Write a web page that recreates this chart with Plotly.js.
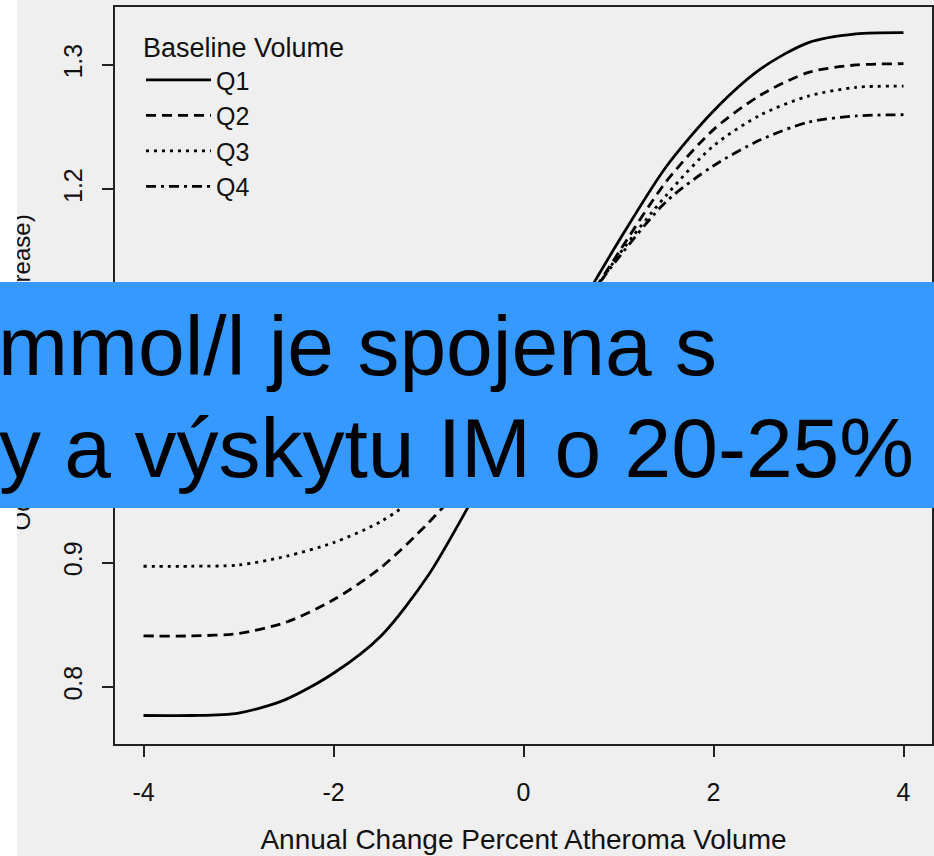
<!DOCTYPE html>
<html>
<head>
<meta charset="utf-8">
<script src="https://cdn.plot.ly/plotly-3.0.1.min.js"></script>
<style>
  html, body { margin: 0; padding: 0; background: #ffffff; }
  #chart { width: 934px; height: 856px; }
</style>
</head>
<body>
<div id="chart"></div>
<script>
// ---- data ----
const xVals = [-4, -3.5, -3, -2.5, -2, -1.5, -1, -0.5, 0, 0.5, 1, 1.5, 2, 2.5, 3, 3.5, 4];
const q1 = [0.777, 0.777, 0.779, 0.790, 0.811, 0.841, 0.890, 0.956, 1.025, 1.093, 1.158, 1.218, 1.263, 1.297, 1.318, 1.325, 1.326];
const q2 = [0.841, 0.841, 0.843, 0.852, 0.870, 0.896, 0.932, 0.975, 1.030, 1.090, 1.149, 1.206, 1.248, 1.276, 1.294, 1.300, 1.301];
const q3 = [0.897, 0.897, 0.898, 0.905, 0.916, 0.933, 0.960, 0.995, 1.040, 1.090, 1.147, 1.195, 1.235, 1.260, 1.275, 1.282, 1.283];
const q4 = [0.955, 0.955, 0.957, 0.962, 0.970, 0.982, 1.000, 1.025, 1.055, 1.095, 1.145, 1.190, 1.219, 1.240, 1.254, 1.259, 1.260];
const seriesNames = ["Q1", "Q2", "Q3", "Q4"];
const xTicks = [-4, -2, 0, 2, 4];
const yTicks = [0.8, 0.9, 1.0, 1.1, 1.2, 1.3];
const legendTitle = "Baseline Volume";
const xTitle = "Annual Change Percent Atheroma Volume";
const yTitle = "Odds Ratio (per SD Increase)";
const bannerLine1 = "mmol/l je spojena s";
const bannerLine2 = "y a výskytu IM o 20-25%";

// ---- layout helpers (pixel -> paper) ----
const W = 934, H = 856;
const M = {l: 115, r: 2, t: 7, b: 112};
const PW = W - M.l - M.r, PH = H - M.t - M.b;
const px = v => (v - M.l) / PW;
const py = v => (H - M.b - v) / PH;

const FONT = '"Liberation Sans", Arial, sans-serif';
const dashes = ["solid", "10px,6px", "3px,5px", "10px,5px,3px,5px"];
const series = [q1, q2, q3, q4];

const traces = series.map((ys, i) => ({
  type: 'scatter', mode: 'lines', x: xVals, y: ys, name: seriesNames[i],
  line: {color: '#000000', width: 2.8, dash: dashes[i], shape: 'spline', smoothing: 0.8}
}));

const layout = {
  width: W, height: H,
  margin: M,
  paper_bgcolor: '#efefef', plot_bgcolor: '#efefef',
  font: {family: FONT, color: '#111111'},
  showlegend: true,
  legend: {
    x: px(141), y: py(22), xanchor: 'left', yanchor: 'top',
    bgcolor: 'rgba(0,0,0,0)', borderwidth: 0,
    font: {family: FONT, size: 25, color: '#111111'},
    title: {text: legendTitle, font: {family: FONT, size: 27, color: '#111111'}},
    itemwidth: 65
  },
  xaxis: {
    range: [-4.3, 4.3], tickvals: xTicks, ticktext: xTicks.map(String),
    ticks: 'outside', ticklen: 11, tickwidth: 2, tickcolor: '#222222',
    showline: true, linewidth: 2, linecolor: '#222222', mirror: true,
    showgrid: false, zeroline: false,
    tickfont: {family: FONT, size: 25, color: '#111111'},
    ticklabelstandoff: 14,
    title: {text: xTitle, font: {family: FONT, size: 28, color: '#111111'}, standoff: 24},
    automargin: false
  },
  yaxis: {
    range: [0.7541, 1.3466], tickvals: yTicks, ticktext: yTicks.map(v => v.toFixed(1)),
    ticks: 'outside', ticklen: 11, tickwidth: 2, tickcolor: '#222222',
    showline: true, linewidth: 2, linecolor: '#222222', mirror: true,
    showgrid: false, zeroline: false, tickangle: -90,
    tickfont: {family: FONT, size: 25, color: '#111111'},
    ticklabelstandoff: 10,
    automargin: false
  },
  annotations: [
    // y-axis title (partly outside the cropped picture)
    {xref: 'paper', yref: 'paper', x: px(21), y: py(372.5), xanchor: 'center', yanchor: 'middle',
     showarrow: false, text: yTitle, textangle: -90, borderpad: 0, borderwidth: 0,
     font: {family: FONT, size: 24, color: '#111111'}},
    // white crop strip along the left edge of the picture
    {xref: 'paper', yref: 'paper', x: px(-5), y: py(-20), xanchor: 'left', yanchor: 'top',
     showarrow: false, text: '\u00a0', width: 22, height: 900, borderpad: 0, borderwidth: 0,
     bgcolor: '#ffffff', font: {family: FONT, size: 10, color: '#ffffff'}},
    // banner
    {xref: 'paper', yref: 'paper', x: px(-19.5), y: py(282), xanchor: 'left', yanchor: 'top',
     showarrow: false, text: bannerLine1, align: 'left', valign: 'top',
     width: 1000, height: 192, borderpad: 17, borderwidth: 0,
     bgcolor: 'rgb(53,153,255)',
     font: {family: FONT, size: 84, color: '#000000'}},
    {xref: 'paper', yref: 'paper', x: px(913.5), y: py(401), xanchor: 'right', yanchor: 'top',
     showarrow: false, text: bannerLine2, align: 'right', borderpad: 0, borderwidth: 0,
     font: {family: FONT, size: 84, color: '#000000'}}
  ]
};

Plotly.newPlot('chart', traces, layout, {staticPlot: true, displayModeBar: false});
</script>
</body>
</html>
